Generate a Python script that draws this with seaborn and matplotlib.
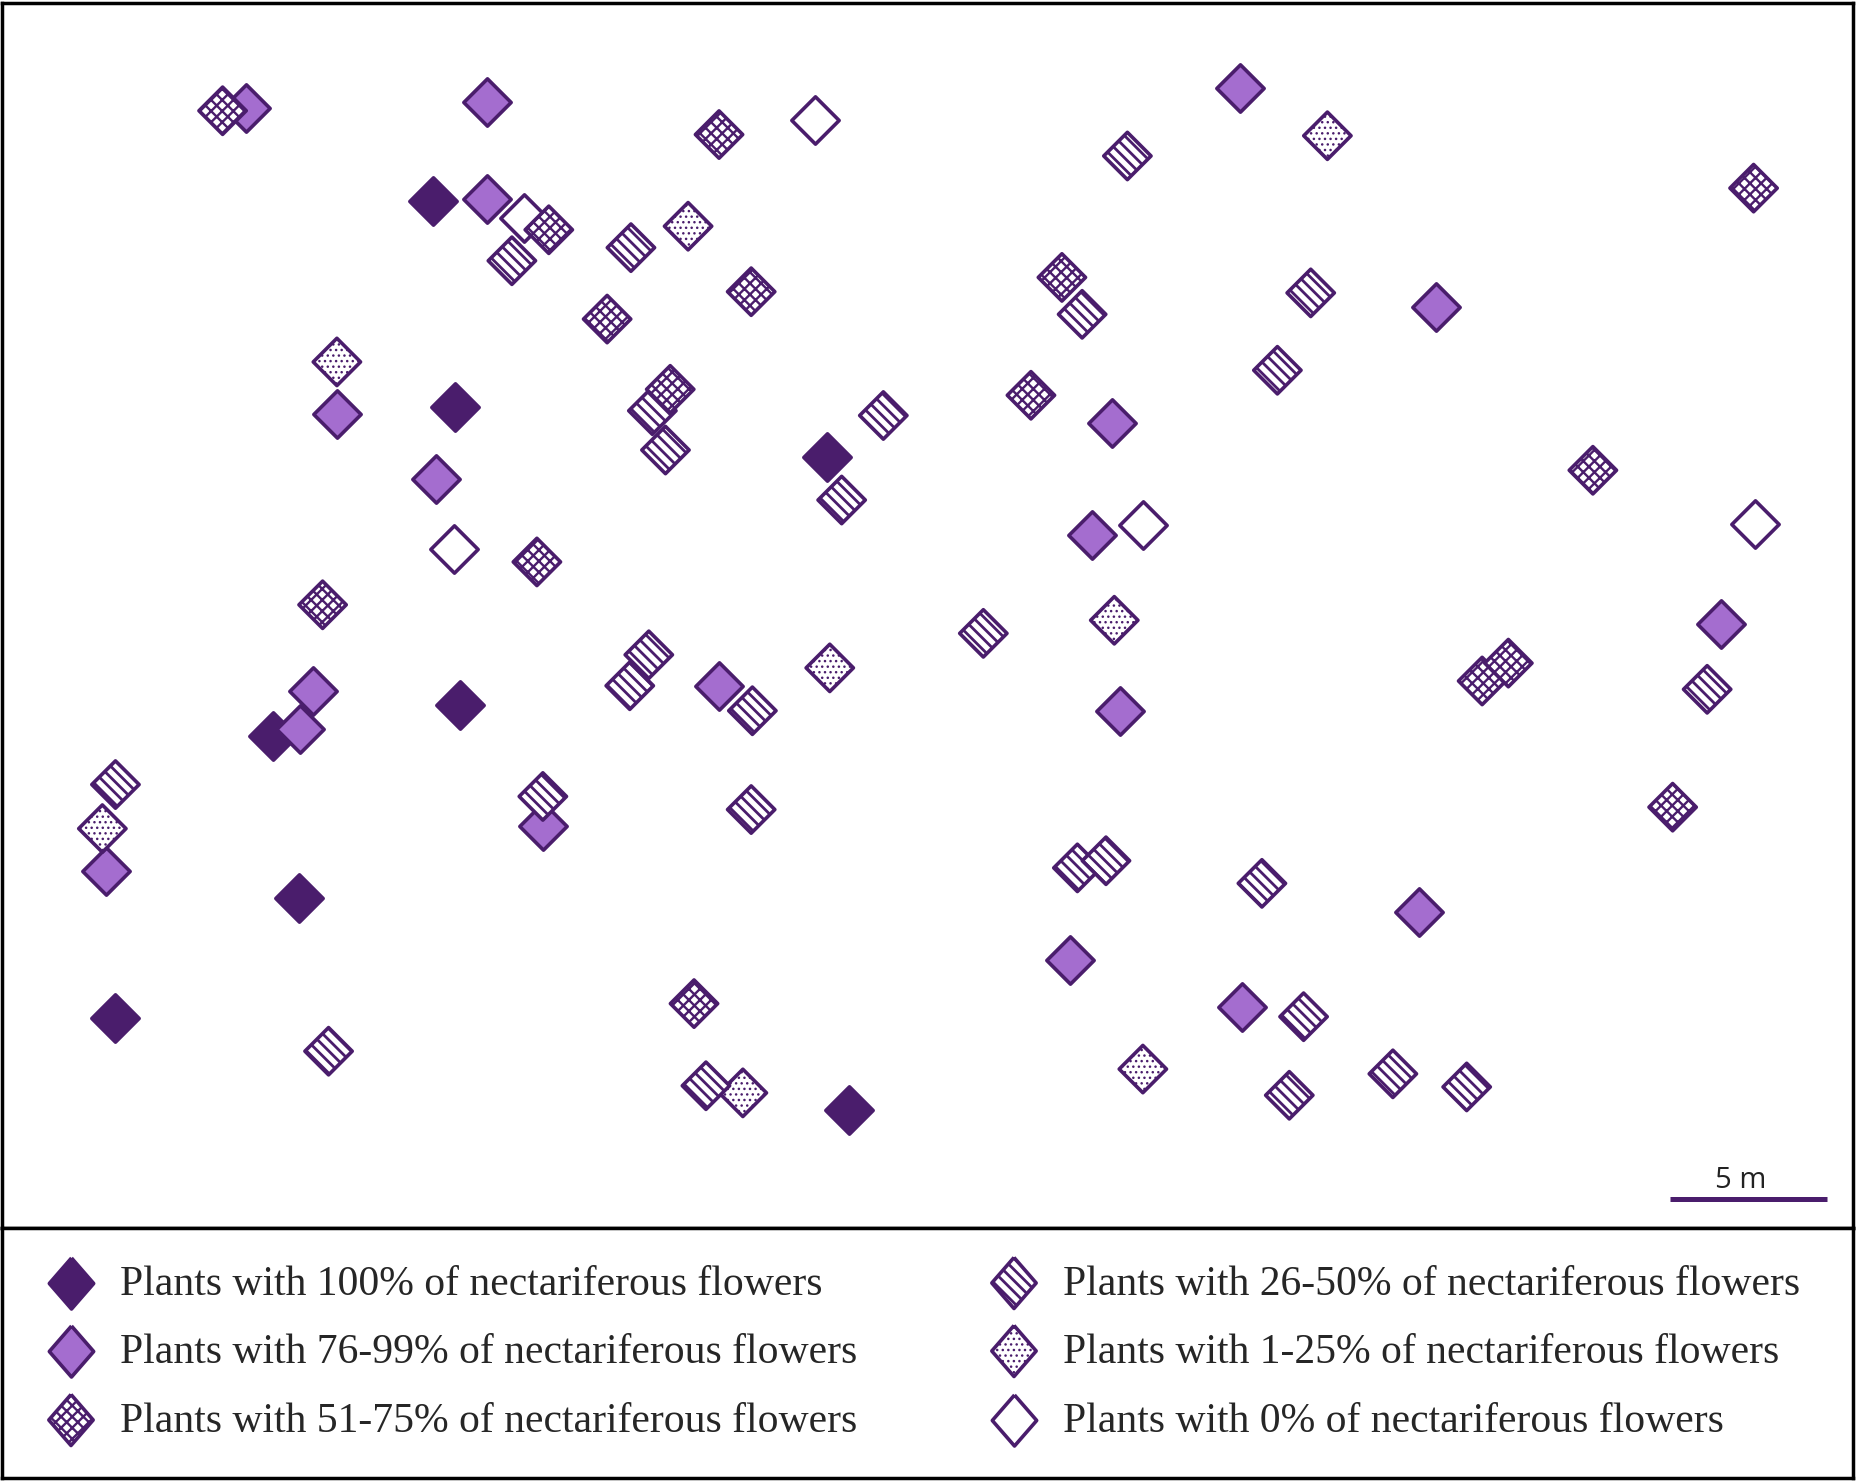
import numpy as np
import pandas as pd
import seaborn as sns
import matplotlib
matplotlib.use('Agg')
import matplotlib.pyplot as plt

DARK = '#4a1d6c'
LIGHT = '#a46dcf'

# === 데이터: 지도 위 식물 위치 (그림 좌표 단위, y 아래로 증가) ===
x_100 = [364, 382, 695, 229, 386, 251, 97, 713]
y_100 = [169, 342, 384, 618, 592, 754, 855, 932]

x_76 = [207, 409, 1042, 409, 1206, 283, 934, 366, 917, 1446, 604, 263, 252, 941, 89, 456, 1192, 899, 1043]
y_76 = [91, 86, 74, 167, 258, 348, 355, 402, 449, 524, 576, 580, 612, 597, 732, 694, 766, 806, 846]

x_51 = [187, 604, 1473, 461, 631, 510, 892, 563, 866, 1338, 451, 271, 1245, 1267, 1405, 583]
y_51 = [93, 113, 158, 193, 245, 268, 233, 327, 332, 395, 472, 508, 572, 557, 678, 843]

x_26 = [947, 430, 530, 909, 1101, 1073, 548, 559, 742, 707, 826, 545, 529, 632, 1434,
        97, 456, 631, 905, 929, 1060, 1095, 276, 593, 1083, 1170, 1232]
y_26 = [131, 219, 208, 264, 246, 311, 345, 378, 349, 420, 532, 550, 576, 597, 579,
        659, 669, 680, 729, 723, 742, 854, 883, 912, 920, 902, 913]

x_1 = [1115, 578, 283, 936, 697, 86, 624, 960]
y_1 = [114, 190, 304, 521, 561, 696, 918, 898]

x_0 = [685, 440, 381, 960, 1474]
y_0 = [101, 183, 461, 441, 440]

labels = ['Plants with 100% of nectariferous flowers',
          'Plants with 76-99% of nectariferous flowers',
          'Plants with 51-75% of nectariferous flowers',
          'Plants with 26-50% of nectariferous flowers',
          'Plants with 1-25% of nectariferous flowers',
          'Plants with 0% of nectariferous flowers']

# (facecolor, hatch, hatch linewidth)
ST_100 = (DARK, None, 1.0)
ST_76 = (LIGHT, None, 1.0)
ST_51 = ('white', 'xxx', 1.7)
ST_26 = ('white', '\\\\\\', 2.0)
ST_1 = ('white', '...', 1.0)
ST_0 = ('white', None, 1.0)

groups = [
    (x_100, y_100, ST_100),
    (x_76, y_76, ST_76),
    (x_0, y_0, ST_0),
    (x_1, y_1, ST_1),
    (x_26, y_26, ST_26),
    (x_51, y_51, ST_51),
]
leg_styles = [ST_100, ST_76, ST_51, ST_26, ST_1, ST_0]

sns.set_style('white')
plt.rcParams['hatch.color'] = DARK


def apply_hatch(coll, hatch, hlw):
    if hatch:
        coll.set_hatch(hatch)
        if hasattr(coll, 'set_hatch_linewidth'):
            coll.set_hatch_linewidth(hlw)


fig = plt.figure(figsize=(18.62, 14.83), dpi=100)
ax = fig.add_axes([2/1862, 255/1483, 1851/1862, 1225/1483])
ax_leg = fig.add_axes([2/1862, 5/1483, 1851/1862, 250/1483])

for xs, ys, (fc, hatch, hlw) in groups:
    plt.rcParams['hatch.linewidth'] = hlw
    df = pd.DataFrame({'x': xs, 'y': ys})
    sns.scatterplot(data=df, x='x', y='y', marker='D', s=580, color=fc,
                    edgecolor=DARK, linewidth=2.6, ax=ax, legend=False)
    apply_hatch(ax.collections[-1], hatch, hlw)

ax.set_xlim(1.7, 1556.5)
ax.set_ylim(1031.5, 2.5)
ax.set_xticks([])
ax.set_yticks([])
ax.set_xlabel('')
ax.set_ylabel('')

# 스케일 바 (5 m)
ax.plot([1403, 1535], [1007, 1007], color=DARK, lw=3.6, solid_capstyle='butt')
ax.text(1462, 998, '5 m', ha='center', va='baseline', fontsize=21,
        family=['Open Sans', 'DejaVu Sans'], color='#222222')

# 범례 (수동 배치)
ax_leg.set_xlim(2, 1853)
ax_leg.set_ylim(1478, 1228)
ax_leg.set_xticks([])
ax_leg.set_yticks([])
leg_marker = [(0, 1), (0.87, 0), (0, -1), (-0.87, 0), (0, 1)]
mx = [71, 71, 71, 1014, 1014, 1014]
my = [1283, 1351, 1420, 1283, 1351, 1420]
for i, (fc, hatch, hlw) in enumerate(leg_styles):
    plt.rcParams['hatch.linewidth'] = hlw
    sc = ax_leg.scatter([mx[i]], [my[i]], marker=leg_marker, s=1350, color=fc,
                        edgecolor=DARK, linewidth=2.6)
    apply_hatch(sc, hatch, hlw)
    ax_leg.text(mx[i] + 49, my[i] + 2, labels[i], ha='left', va='center',
                fontsize=30, family=['Liberation Serif', 'DejaVu Serif'])

for a in (ax, ax_leg):
    for sp in a.spines.values():
        sp.set_visible(True)
        sp.set_color('black')
        sp.set_linewidth(2.5)

fig.savefig('out.png', dpi=100, facecolor='white')
